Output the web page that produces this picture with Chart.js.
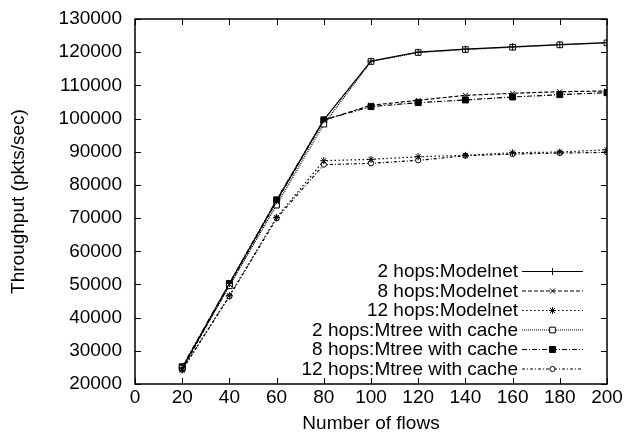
<!DOCTYPE html>
<html>
<head>
<meta charset="utf-8">
<script src="https://cdn.jsdelivr.net/npm/chart.js@4/dist/chart.umd.min.js"></script>
<style>
  html, body { margin: 0; padding: 0; background: #fff; }
  #wrap { width: 628px; height: 441px; }
</style>
</head>
<body>
<div id="wrap"><canvas id="chart" width="628" height="441"></canvas></div>
<script>
// Flows on the x axis
const flows = [20, 40, 60, 80, 100, 120, 140, 160, 180, 200]

// Throughput per run (pkts/sec)
const modelnet2 = [24900, 50300, 75300, 99600, 117300, 120000, 120900, 121600, 122300, 122900]
const modelnet8 = [24400, 50000, 75000, 99500, 104000, 105500, 107000, 107600, 108100, 108300]
const modelnet12 = [24200, 46600, 70200, 87300, 87700, 88500, 88900, 89700, 89900, 90600]
const mtree2 = [24800, 49600, 73900, 98300, 117200, 119900, 120800, 121500, 122200, 122800]
const mtree8 = [25200, 50300, 75500, 99600, 103600, 104800, 105600, 106500, 107200, 107800]
const mtree12 = [24300, 46400, 69900, 86100, 86500, 87400, 88800, 89300, 89600, 89800]

const labels = [
    '2 hops:Modelnet',
    '8 hops:Modelnet',
    '12 hops:Modelnet',
    '2 hops:Mtree with cache',
    '8 hops:Mtree with cache',
    '12 hops:Mtree with cache'
]

const xTicks = [0, 20, 40, 60, 80, 100, 120, 140, 160, 180, 200]
const yTicks = [20000, 30000, 40000, 50000, 60000, 70000, 80000, 90000, 100000, 110000, 120000, 130000]

const FONT = 'Liberation Sans, Arial, Helvetica, sans-serif'

function toPoints (ys) {
    return flows.map((x, i) => ({ x: x, y: ys[i] }))
}

function series (label, ys, dash, style, radius, fill) {
    return {
        label: label,
        data: toPoints(ys),
        borderColor: '#000',
        borderWidth: 1.2,
        borderDash: dash,
        pointStyle: style,
        pointRadius: radius,
        pointBorderColor: '#000',
        pointBorderWidth: 1,
        pointBackgroundColor: fill,
        showLine: true,
        fill: false,
        tension: 0
    }
}

const datasets = [
    series(labels[0], modelnet2, [], 'cross', 3.5, '#000'),
    series(labels[1], modelnet8, [4, 2], 'crossRot', 3.5, '#000'),
    series(labels[2], modelnet12, [1.5, 2.5], 'star', 3.5, '#000'),
    series(labels[3], mtree2, [1, 1], 'rect', 4, '#fff'),
    series(labels[4], mtree8, [5, 2, 1, 2], 'rect', 4.2, '#000'),
    series(labels[5], mtree12, [3, 2, 1, 2], 'circle', 2.6, '#fff')
]

// Frame with inward ticks on all four sides
const framePlugin = {
    id: 'frame',
    afterDraw (chart) {
        const { ctx, chartArea: a, scales } = chart
        const len = 6
        ctx.save()
        ctx.strokeStyle = '#000'
        ctx.lineWidth = 1.5
        ctx.setLineDash([])
        ctx.strokeRect(a.left, a.top, a.right - a.left, a.bottom - a.top)
        ctx.lineWidth = 1
        ctx.beginPath()
        xTicks.forEach(v => {
            const px = Math.round(scales.x.getPixelForValue(v)) + 0.5
            ctx.moveTo(px, a.bottom); ctx.lineTo(px, a.bottom - len)
            ctx.moveTo(px, a.top); ctx.lineTo(px, a.top + len)
        })
        yTicks.forEach(v => {
            const py = Math.round(scales.y.getPixelForValue(v)) + 0.5
            ctx.moveTo(a.left, py); ctx.lineTo(a.left + len, py)
            ctx.moveTo(a.right, py); ctx.lineTo(a.right - len, py)
        })
        ctx.stroke()
        ctx.restore()
    }
}

// Key in the lower right corner: label right-aligned, sample line after it
const keyPlugin = {
    id: 'key',
    afterDraw (chart) {
        const { ctx } = chart
        const textRight = 518
        const lineLeft = 522
        const lineRight = 583
        const top = 271
        const step = 19.5
        ctx.save()
        ctx.font = '19px ' + FONT
        ctx.textAlign = 'right'
        ctx.textBaseline = 'middle'
        chart.data.datasets.forEach((ds, i) => {
            const y = top + i * step
            ctx.fillStyle = '#000'
            ctx.fillText(ds.label, textRight, y + 1)
            ctx.strokeStyle = '#000'
            ctx.lineWidth = ds.borderWidth
            ctx.setLineDash(ds.borderDash)
            ctx.beginPath()
            ctx.moveTo(lineLeft, y + 0.5)
            ctx.lineTo(lineRight, y + 0.5)
            ctx.stroke()
            ctx.setLineDash([])
            ctx.strokeStyle = ds.pointBorderColor
            ctx.fillStyle = ds.pointBackgroundColor
            ctx.lineWidth = ds.pointBorderWidth
            Chart.helpers.drawPoint(ctx, {
                pointStyle: ds.pointStyle,
                radius: ds.pointRadius,
                rotation: 0,
                borderWidth: ds.pointBorderWidth
            }, (lineLeft + lineRight) / 2, y + 0.5)
        })
        ctx.restore()
    }
}

new Chart(document.getElementById('chart').getContext('2d'), {
    type: 'scatter',
    data: { datasets: datasets },
    options: {
        responsive: false,
        animation: false,
        devicePixelRatio: 1,
        layout: { padding: { left: 3, right: 21, top: 19, bottom: 0 } },
        plugins: {
            legend: { display: false },
            tooltip: { enabled: false }
        },
        scales: {
            x: {
                type: 'linear',
                min: 0,
                max: 200,
                border: { display: false },
                grid: { display: false, drawTicks: false },
                afterBuildTicks: s => { s.ticks = xTicks.map(v => ({ value: v })) },
                afterFit: s => { s.height = 57 },
                ticks: {
                    color: '#000',
                    padding: 2,
                    maxRotation: 0,
                    font: { family: FONT, size: 19 }
                },
                title: {
                    display: true,
                    text: 'Number of flows',
                    color: '#000',
                    padding: { top: 0, bottom: 6 },
                    font: { family: FONT, size: 19 }
                }
            },
            y: {
                type: 'linear',
                min: 20000,
                max: 130000,
                border: { display: false },
                grid: { display: false, drawTicks: false },
                afterBuildTicks: s => { s.ticks = yTicks.map(v => ({ value: v })) },
                afterFit: s => {
                    // fixed width, and no extra room reserved for the end labels
                    s.width = 132
                    s.paddingTop = 0
                    s.paddingBottom = 0
                },
                ticks: {
                    color: '#000',
                    padding: 13,
                    font: { family: FONT, size: 19 },
                    callback: v => String(v)
                },
                title: {
                    display: true,
                    text: 'Throughput (pkts/sec)',
                    color: '#000',
                    padding: { top: 4, bottom: 0 },
                    font: { family: FONT, size: 19 }
                }
            }
        }
    },
    plugins: [framePlugin, keyPlugin]
})
</script>
</body>
</html>
